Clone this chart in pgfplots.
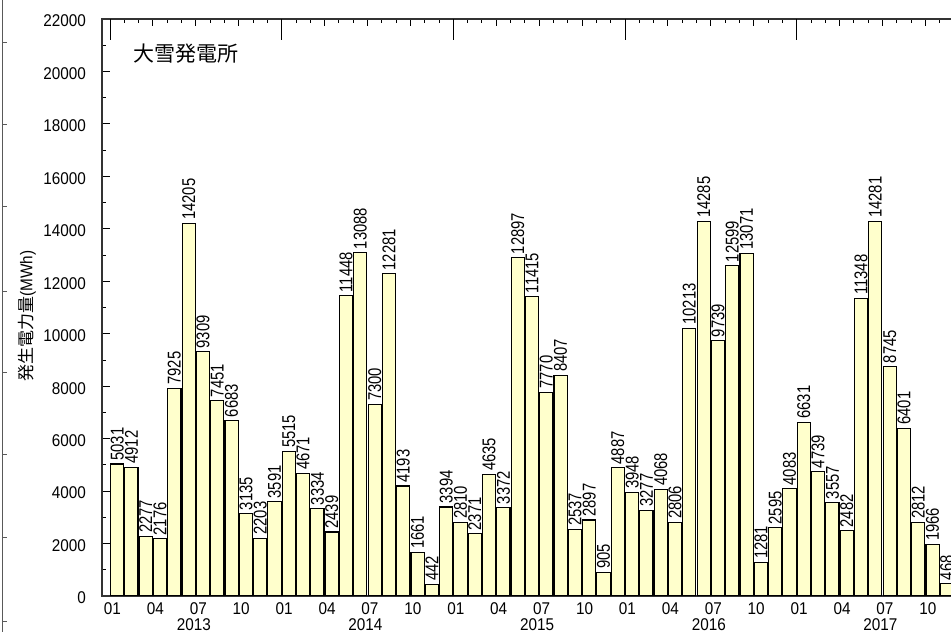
\documentclass[border=0pt]{standalone}
\usepackage{pgfplots}
\pgfplotsset{compat=1.18}
\usepackage{fontspec}
\setmainfont{Liberation Sans}[FakeStretch=0.9]
\newfontfamily\narrowfont{Liberation Sans}[FakeStretch=0.8]
\newfontfamily\cjk{Noto Sans CJK JP}
\definecolor{barfill}{RGB}{255,255,204}
\pgfplotstableread{
x v
0.5 5031
1.5 4912
2.5 2277
3.5 2176
4.5 7925
5.5 14205
6.5 9309
7.5 7451
8.5 6683
9.5 3135
10.5 2203
11.5 3591
12.5 5515
13.5 4671
14.5 3334
15.5 2439
16.5 11448
17.5 13088
18.5 7300
19.5 12281
20.5 4193
21.5 1661
22.5 442
23.5 3394
24.5 2810
25.5 2371
26.5 4635
27.5 3372
28.5 12897
29.5 11415
30.5 7770
31.5 8407
32.5 2537
33.5 2897
34.5 905
35.5 4887
36.5 3948
37.5 3277
38.5 4068
39.5 2806
40.5 10213
41.5 14285
42.5 9739
43.5 12599
44.5 13071
45.5 1281
46.5 2595
47.5 4083
48.5 6631
49.5 4739
50.5 3557
51.5 2482
52.5 11348
53.5 14281
54.5 8745
55.5 6401
56.5 2812
57.5 1966
58.5 468
}\datatable
\begin{document}
\begin{tikzpicture}[x=1pt,y=1pt]
\draw[black!65, line width=1pt] (2.5,0) -- (2.5,632);
\foreach \yy in {589,507,425,340,259,177,94,10} \draw[black!65, line width=1pt] (2.5,\yy) -- (6.5,\yy);
\begin{axis}[
  at={(102pt,36pt)}, anchor=south west,
  scale only axis, width=851pt, height=577pt,
  xmin=-0.559, xmax=58.93, ymin=0, ymax=22000,
  clip mode=individual,
  axis line style={black!80, line width=1.3pt},
  tick align=inside,
  ytick={0,2000,...,22000}, minor y tick num=1, ytick pos=left,
  xtick={0,3,...,57},
  xticklabels={01,04,07,10,01,04,07,10,01,04,07,10,01,04,07,10,01,04,07,10},
  xtick style={draw=none},
  major tick length=7.5pt, minor tick length=4pt,
  every tick/.style={black, line width=0.9pt},
  scaled y ticks=false,
  tick label style={font=\fontsize{17}{17}\selectfont},
  yticklabel style={anchor=east, inner sep=0pt, xshift=-16pt, yshift=-2pt},
  xticklabel style={anchor=center, inner sep=0pt, xshift=2.5pt, yshift=-5pt},
  /pgf/number format/1000 sep={},
  /pgf/number format/assume math mode=true,
  ybar, bar width=0.92,
  nodes near coords,
  every node near coord/.append style={rotate=90, anchor=west, inner xsep=3pt, inner ysep=0pt, font=\narrowfont\fontsize{18.5}{18.5}\selectfont, black},
]
\addplot[fill=barfill, draw=black, line width=1.1pt] table[x=x, y=v] {\datatable};
\node[font=\fontsize{17}{17}\selectfont, xshift=-2pt, yshift=-28.5pt] at (axis cs:6,0) {2013};
\node[font=\fontsize{17}{17}\selectfont, xshift=-2pt, yshift=-28.5pt] at (axis cs:18,0) {2014};
\node[font=\fontsize{17}{17}\selectfont, xshift=-2pt, yshift=-28.5pt] at (axis cs:30,0) {2015};
\node[font=\fontsize{17}{17}\selectfont, xshift=-2pt, yshift=-28.5pt] at (axis cs:42,0) {2016};
\node[font=\fontsize{17}{17}\selectfont, xshift=-2pt, yshift=-28.5pt] at (axis cs:54,0) {2017};
\node[anchor=north west, inner sep=0pt, font=\cjk\fontsize{21}{21}\selectfont] at (rel axis cs:0.0364,0.9567) {大雪発電所};
\end{axis}
\begin{axis}[
  at={(102pt,36pt)}, anchor=south west,
  scale only axis, width=851pt, height=577pt,
  xmin=-0.559, xmax=58.93, ymin=0, ymax=22000,
  axis x line*=top, axis y line=none,
  axis line style={black!80, line width=1.3pt},
  tick align=inside,
  xtick={0,3,...,57}, xticklabels={},
  minor xtick={0,...,58},
  extra x ticks={0,12,24,36,48}, extra x tick labels={},
  extra x tick style={major tick length=21pt},
  major tick length=7pt, minor tick length=4.5pt,
  every tick/.style={black, line width=0.9pt},
  ytick=\empty,
]
\end{axis}
\node[rotate=90, font=\fontsize{17}{17}\selectfont] at (27,316) {{\cjk 発生電力量}(MWh)};
\pgfresetboundingbox
\useasboundingbox (0,0) rectangle (951,632);
\end{tikzpicture}
\end{document}
